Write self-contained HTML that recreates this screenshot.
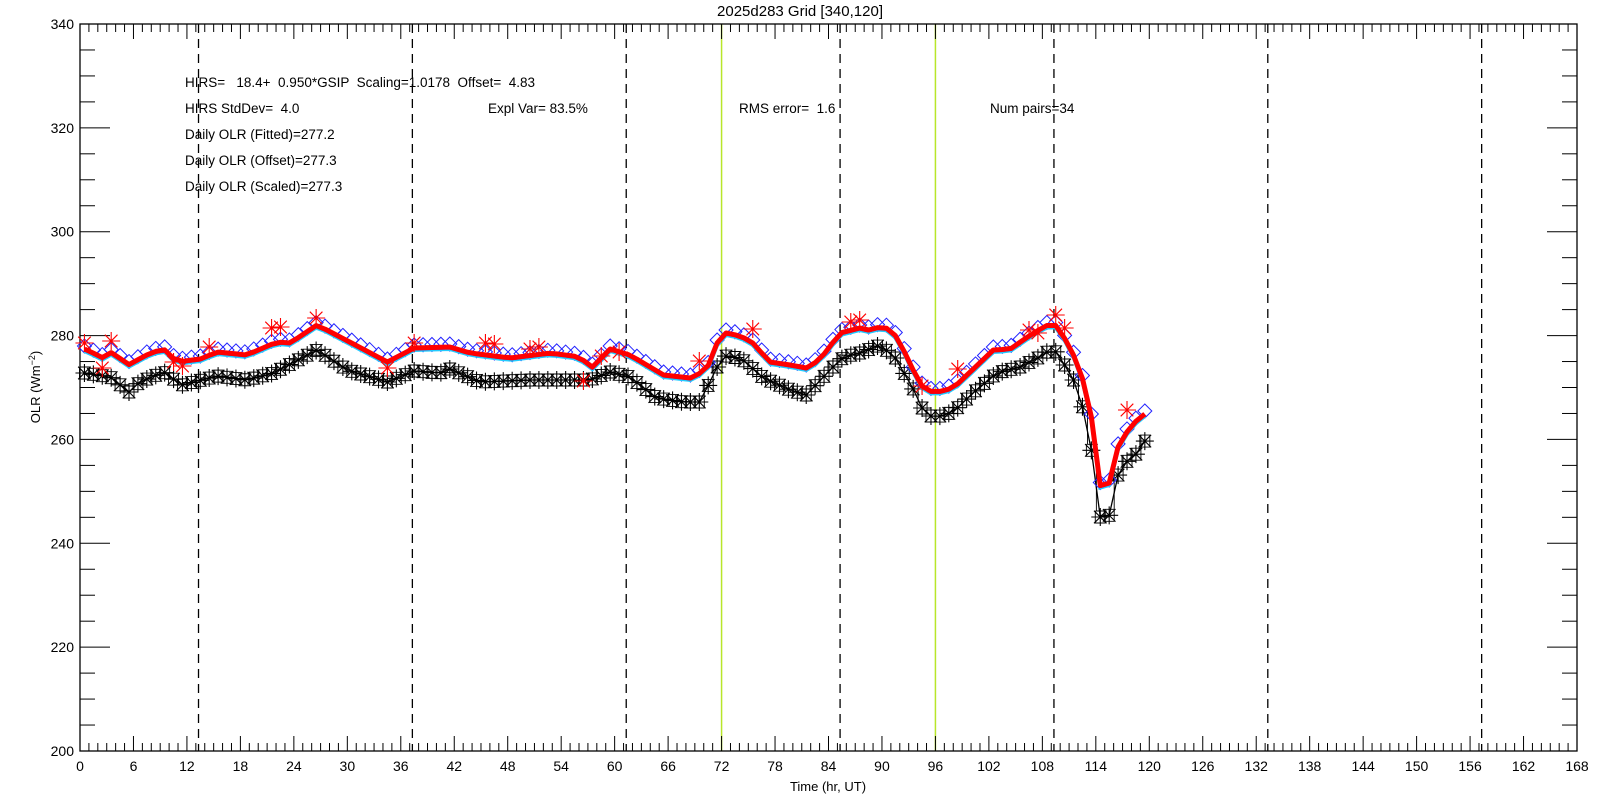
<!DOCTYPE html>
<html><head><meta charset="utf-8"><style>
html,body{margin:0;padding:0;background:#fff;}
svg{display:block;font-family:"Liberation Sans",sans-serif;}
</style></head><body>
<svg id="s" width="1600" height="800" xmlns="http://www.w3.org/2000/svg"></svg>
<script>
const L=80,R=1577,T=24,B=751;
const X=h=>L+h*(R-L)/168, Y=v=>B-(v-200)*(B-T)/140;
let o='';
o+=`<rect width="1600" height="800" fill="#fff"/>`;
[13.3,37.3,61.3,85.3,109.3,133.3,157.3].forEach(h=>{o+=`<line x1="${X(h)}" y1="${T}" x2="${X(h)}" y2="${B}" stroke="#000" stroke-width="1.3" stroke-dasharray="9,6"/>`;});
[72,96].forEach(h=>{o+=`<line x1="${X(h)}" y1="${T}" x2="${X(h)}" y2="${B}" stroke="#b8e62a" stroke-width="1.5"/>`;});
o+=`<rect x="${L}" y="${T}" width="${R-L}" height="${B-T}" fill="none" stroke="#000" stroke-width="1.3"/>`;
for(let h=0;h<=168;h++){const x=X(h),len=h%6==0?15:8;
o+=`<line x1="${x}" y1="${B}" x2="${x}" y2="${B-len}" stroke="#000"/><line x1="${x}" y1="${T}" x2="${x}" y2="${T+len}" stroke="#000"/>`;
if(h%6==0)o+=`<text x="${x}" y="771" font-size="14" text-anchor="middle">${h}</text>`;}
for(let v=200;v<=340;v+=5){const y=Y(v),len=v%20==0?30:15;
o+=`<line x1="${L}" y1="${y}" x2="${L+len}" y2="${y}" stroke="#000"/><line x1="${R}" y1="${y}" x2="${R-len}" y2="${y}" stroke="#000"/>`;
if(v%20==0)o+=`<text x="74" y="${y+5}" font-size="14" text-anchor="end">${v}</text>`;}
o+=`<text x="800" y="16" font-size="15" text-anchor="middle">2025d283 Grid [340,120]</text>`;
o+=`<text x="828" y="791" font-size="13" text-anchor="middle">Time (hr, UT)</text>`;
o+=`<text transform="translate(40,387) rotate(-90)" font-size="13" text-anchor="middle">OLR (Wm<tspan dy="-5" font-size="9">−2</tspan><tspan dy="5">)</tspan></text>`;
const tx=(x,y,s)=>o+=`<text x="${x}" y="${y}" font-size="13.5" xml:space="preserve">${s}</text>`;
tx(185,87,"HIRS=   18.4+  0.950*GSIP  Scaling=1.0178  Offset=  4.83");
tx(185,113,"HIRS StdDev=  4.0");tx(488,113,"Expl Var= 83.5%");tx(739,113,"RMS error=  1.6");tx(990,113,"Num pairs=34");
tx(185,139,"Daily OLR (Fitted)=277.2");tx(185,165,"Daily OLR (Offset)=277.3");tx(185,191,"Daily OLR (Scaled)=277.3");
const blk=[[0,373],[0.56,373],[3.4,377],[5.5,392],[6.7,382],[9.4,372],[11.4,385],[15.4,376],[18.7,380],[21.7,373],[26.6,350],[30,370],[34.5,382],[37.5,371],[40.4,373],[41.5,369],[44.9,382],[50.5,380],[57.2,380],[59.5,372],[61.7,377],[64.7,398],[67.7,402],[69.6,402],[71.5,367],[72.6,355],[74.4,360],[76.7,378],[79.7,390],[81.5,395],[84.5,367],[85.7,357],[87.5,353],[89.8,345],[91.5,358],[92.6,375],[93.7,392],[94.6,410],[95.8,418],[98,412],[100.2,393],[102.9,373],[105.5,367],[107.7,357],[109.2,348],[110.3,362],[111.5,380],[112.4,403],[113.3,437],[114.5,517],[115.4,520],[116.3,478],[117.4,462],[118.8,452],[119.7,438]];
const red=[[0,349],[0.56,349],[2.6,358],[3.6,352],[5.4,365],[7.9,353],[9.4,349],[10.9,362],[13.5,359],[15.4,352],[18.7,355],[22.1,342],[23.6,343],[26.6,325],[29.2,337],[34.5,362],[37.5,348],[41.5,347],[43.8,353],[48.3,358],[52.8,353],[56.1,357],[57.4,368],[59.5,349],[61.7,355],[65.5,375],[68.5,378],[70.3,370],[71.5,343],[72.6,332],[75.2,340],[77.4,362],[79.7,365],[81.5,368],[83,360],[85.3,333],[87.5,328],[88.5,330],[90.2,326],[91.7,337],[92.8,357],[94.3,385],[95.8,393],[98,388],[99.9,372],[102.5,350],[104.4,349],[107,333],[109.2,322],[110.3,335],[112.2,367],[113.5,417],[114.3,485],[115.4,488],[116.1,453],[117.4,433],[118.9,417],[119.7,413]];
const f=(d,h)=>{for(let i=1;i<d.length;i++)if(h<=d[i][0]){const a=d[i-1],b=d[i],t=(h-a[0])/(b[0]-a[0]);return a[1]+t*(b[1]-a[1]);}return d[d.length-1][1];};
const hs=[];for(let h=0.5;h<=119.6;h+=1)hs.push(h);
// step-like black thin line (squares look)
let st=`M${X(hs[0])-5} ${f(blk,hs[0])}`;
hs.forEach(h=>{const x=X(h),y=f(blk,h);st+=`V${y-6}M${x-5} ${y-6}H${x+5}V${y+6}H${x-5}V${y-6}M${x+5} ${y}`;});
o+=`<path d="${st}" fill="none" stroke="#000" stroke-width="0.9"/>`;
o+=`<polyline fill="none" stroke="#000" stroke-width="1.3" points="${hs.map(h=>X(h)+','+f(blk,h)).join(' ')}"/>`;
const ast=(x,y,r,c)=>o+=`<path d="M${x-r} ${y}H${x+r}M${x} ${y-r}V${y+r}M${x-r*.7} ${y-r*.7}L${x+r*.7} ${y+r*.7}M${x-r*.7} ${y+r*.7}L${x+r*.7} ${y-r*.7}" stroke="${c}" stroke-width="1.1"/>`;
hs.forEach(h=>ast(X(h),f(blk,h),9,"#000"));
hs.forEach(h=>{const x=X(h),y=f(red,h)-3,r=7;o+=`<path d="M${x} ${y-r}L${x+r} ${y}L${x} ${y+r}L${x-r} ${y}Z" fill="none" stroke="#2222ff" stroke-width="1"/>`;});
o+=`<polyline fill="none" stroke="#22ccff" stroke-width="4" points="${hs.map(h=>X(h)+','+(f(red,h)+2)).join(' ')}"/>`;
o+=`<polyline fill="none" stroke="#2222ff" stroke-width="3" points="${hs.map(h=>X(h)+','+(f(red,h)+1)).join(' ')}"/>`;
o+=`<polyline fill="none" stroke="#ff0000" stroke-width="5" stroke-linejoin="round" points="${hs.map(h=>X(h)+','+f(red,h)).join(' ')}"/>`;
[[0.5,343],[2.5,368],[3.5,341],[10.5,362],[11.5,366],[14.5,347],[21.5,328],[22.5,327],[26.5,318],[34.5,368],[37.5,343],[45.5,343],[46.5,344],[50.5,349],[51.5,347],[56.5,381],[58.5,356],[60.5,352],[69.5,361],[75.5,329],[86.5,322],[87.5,320],[94.5,386],[98.5,369],[106.5,330],[107.5,333],[109.5,315],[110.5,328],[117.5,410]].forEach(([h,y])=>ast(X(h),y,9,"#ff0000"));
document.getElementById('s').innerHTML=o;
</script>
</body></html>
